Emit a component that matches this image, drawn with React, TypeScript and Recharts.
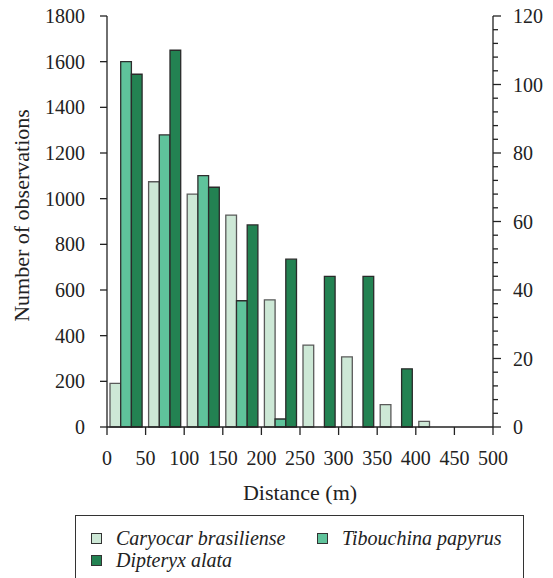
import React from 'react';
import { BarChart, Bar, XAxis, YAxis } from 'recharts';

const binStarts = [0, 50, 100, 150, 200, 250, 300, 350, 400, 450];
const binWidth = 50;
const caryocar = [191, 1074, 1020, 928, 557, 359, 307, 98, 25, 0];
const tibouchina = [1600, 1279, 1101, 553, 35, 0, 0, 0, 0, 0];
const dipteryx = [103, 110, 70, 59, 49, 44, 44, 17, 0, 0];

const xTicks = [0, 50, 100, 150, 200, 250, 300, 350, 400, 450, 500];
const leftTicks = [0, 200, 400, 600, 800, 1000, 1200, 1400, 1600, 1800];
const rightTicks = [0, 4, 8, 12, 16, 20, 24, 28, 32, 36, 40, 44, 48, 52, 56, 60, 64, 68, 72, 76, 80, 84, 88, 92, 96, 100, 104, 108, 112, 116, 120];
const rightLabels = [0, 20, 40, 60, 80, 100, 120];

const seriesNames = ['Caryocar brasiliense', 'Tibouchina papyrus', 'Dipteryx alata'];
const seriesFills = ['#cde8d6', '#5fc39b', '#238252'];
const seriesStrokes = ['#5a5a5a', '#2e2e2e', '#2a2a2a'];

const data = binStarts.map((start, i) => ({
  distance: start + binWidth / 2,
  caryocar: caryocar[i],
  tibouchina: tibouchina[i],
  dipteryx: dipteryx[i],
}));

const FONT = '"Liberation Serif", "DejaVu Serif", serif';
const INK = '#222';

const RightTick = (props: any) => {
  const { x, y, payload } = props;
  const v = payload.value;
  const major = rightLabels.includes(v);
  return (
    <g>
      <line x1={x} y1={y} x2={x + (major ? 8 : 5)} y2={y} stroke={INK} strokeWidth={1.3} />
      {major && (
        <text x={x + 20} y={y} dy="0.355em" textAnchor="start" fontSize={20} fontFamily={FONT} fill={INK}>
          {v}
        </text>
      )}
    </g>
  );
};

const YTitle = (props: any) => {
  const vb = props.viewBox || {};
  const x = vb.x + 2;
  const y = vb.y + vb.height / 2 - 6;
  return (
    <text x={x} y={y} transform={`rotate(-90, ${x}, ${y})`} textAnchor="middle" fontSize={22} fontFamily={FONT} fill={INK}>
      Number of observations
    </text>
  );
};

const XTitle = (props: any) => {
  const vb = props.viewBox || {};
  return (
    <text x={vb.x + vb.width / 2} y={vb.y + 73} textAnchor="middle" fontSize={22} fontFamily={FONT} fill={INK}>
      Distance (m)
    </text>
  );
};

export default function App() {
  const tickStyle = { fontSize: 20, fontFamily: FONT, fill: INK };
  return (
    <div style={{ position: 'absolute', left: 0, top: 0, width: 553, height: 578, background: '#fff', overflow: 'hidden' }}>
      <BarChart
        width={553}
        height={578}
        data={data}
        margin={{ top: 16, right: 0, left: 27, bottom: 71 }}
        barGap={0}
        barSize={10.7}
      >
        <XAxis
          dataKey="distance"
          type="number"
          domain={[0, 500]}
          ticks={xTicks}
          interval={0}
          height={80}
          tickSize={8}
          tickMargin={16}
          tick={tickStyle}
          axisLine={{ stroke: INK, strokeWidth: 1.3 }}
          tickLine={{ stroke: INK, strokeWidth: 1.3 }}
          label={<XTitle />}
        />
        <YAxis
          yAxisId="left"
          domain={[0, 1800]}
          ticks={leftTicks}
          interval={0}
          width={80}
          tickSize={7}
          tickMargin={15}
          tick={tickStyle}
          axisLine={{ stroke: INK, strokeWidth: 1.3 }}
          tickLine={{ stroke: INK, strokeWidth: 1.3 }}
          label={<YTitle />}
        />
        <YAxis
          yAxisId="right"
          orientation="right"
          domain={[0, 120]}
          ticks={rightTicks}
          interval={0}
          width={60}
          tickSize={0}
          tickMargin={0}
          tick={<RightTick />}
          tickLine={false}
          axisLine={{ stroke: INK, strokeWidth: 1.3 }}
        />
        <Bar yAxisId="left" dataKey="caryocar" name={seriesNames[0]} fill={seriesFills[0]} stroke={seriesStrokes[0]} strokeWidth={1.3} isAnimationActive={false} />
        <Bar yAxisId="left" dataKey="tibouchina" name={seriesNames[1]} fill={seriesFills[1]} stroke={seriesStrokes[1]} strokeWidth={1.3} isAnimationActive={false} />
        <Bar yAxisId="right" dataKey="dipteryx" name={seriesNames[2]} fill={seriesFills[2]} stroke={seriesStrokes[2]} strokeWidth={1.3} isAnimationActive={false} />
      </BarChart>
      <div
        style={{
          position: 'absolute',
          left: 75,
          top: 515,
          width: 449,
          height: 90,
          boxSizing: 'border-box',
          border: '1.3px solid #333',
          paddingLeft: 15,
          paddingTop: 11,
          display: 'grid',
          gridTemplateColumns: '226px auto',
          gridAutoRows: '22px',
          fontFamily: FONT,
          fontStyle: 'italic',
          fontSize: 20,
          lineHeight: '22px',
          color: INK,
        }}
      >
        {seriesNames.map((name, i) => (
          <div key={name} style={{ display: 'flex', alignItems: 'flex-start', whiteSpace: 'nowrap' }}>
            <span
              style={{
                display: 'inline-block',
                width: 11,
                height: 11,
                boxSizing: 'border-box',
                marginTop: 6,
                marginRight: 14,
                background: seriesFills[i],
                border: '1.3px solid #333',
              }}
            />
            <span>{name}</span>
          </div>
        ))}
      </div>
    </div>
  );
}
